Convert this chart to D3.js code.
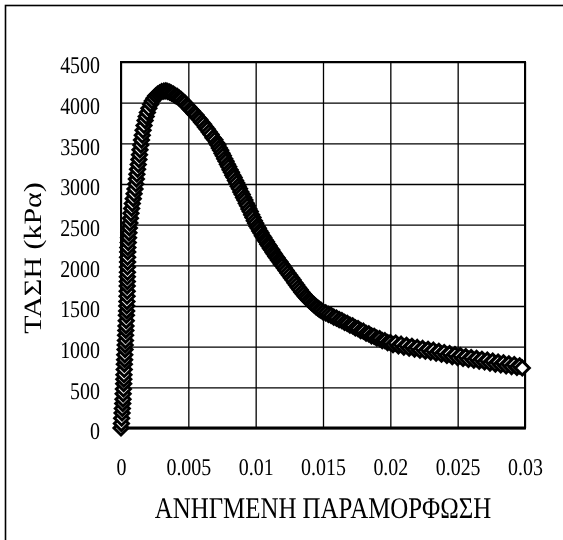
<!DOCTYPE html>
<html>
<head>
<meta charset="utf-8">
<script src="https://cdn.jsdelivr.net/npm/d3@7"></script>
<style>
  body { margin: 0; background: #fff; }
  svg { display: block; will-change: transform; }
  text { text-rendering: geometricPrecision; }
</style>
</head>
<body>
<svg id="chart" width="563" height="540"></svg>
<script>
// Rising branch of the stress–strain test (strain, stress in kPa)
const risingStrain = [
  0, 0.00003, 0.00005, 0.00008, 0.0001, 0.00013, 0.00015, 0.00016, 0.00018, 0.0002,
  0.00021, 0.00022, 0.00024, 0.00025, 0.00027, 0.00028, 0.0003, 0.00031, 0.00033, 0.00034,
  0.00036, 0.00037, 0.00039, 0.0004, 0.00042, 0.00043, 0.00044, 0.00045, 0.00046, 0.00046,
  0.00047, 0.00047, 0.00048, 0.00048, 0.00049, 0.00049, 0.0005, 0.00051,
  0.00054, 0.00056, 0.00059, 0.00062, 0.00066, 0.0007, 0.00074, 0.00079, 0.00084, 0.00091,
  0.00097, 0.00104, 0.0011, 0.00114, 0.00118, 0.00123, 0.00128, 0.00133, 0.00137, 0.00141,
  0.00147, 0.00152, 0.00158, 0.00164, 0.00171, 0.00179, 0.00187, 0.00196, 0.00207, 0.0022,
  0.00232, 0.00245, 0.00258, 0.00272, 0.00287, 0.00302, 0.00318, 0.00333
];
const risingStress = [
  0, 55, 120, 185, 240, 300, 355, 420, 480, 545,
  600, 655, 720, 785, 840, 900, 965, 1020, 1075, 1140,
  1200, 1255, 1320, 1385, 1440, 1500, 1555, 1620, 1680, 1745,
  1800, 1860, 1915, 1980, 2040, 2100, 2165, 2220,
  2280, 2340, 2400, 2460, 2520, 2580, 2640, 2700, 2760, 2820,
  2880, 2940, 3000, 3060, 3120, 3180, 3240, 3300, 3360, 3420,
  3480, 3540, 3600, 3660, 3720, 3780, 3830, 3880, 3930, 3980,
  4020, 4055, 4085, 4105, 4120, 4135, 4142, 4145
];

// Post-peak softening branch
const softeningStrain = [
  0.00347, 0.00361, 0.00375, 0.00389, 0.00403, 0.00417, 0.00431, 0.00445, 0.00459, 0.00473,
  0.00487, 0.00501, 0.00515, 0.00529, 0.00543, 0.00557, 0.00571, 0.00585, 0.00599, 0.00613,
  0.00627, 0.00641, 0.00655, 0.00669, 0.00683, 0.00697,
  0.0071, 0.0072, 0.0073, 0.0074, 0.0075, 0.0076, 0.0077, 0.0078, 0.0079, 0.008,
  0.0081, 0.0082, 0.0083, 0.0084, 0.0085, 0.0086, 0.0087, 0.0088, 0.0089, 0.009,
  0.0091, 0.0092, 0.0093, 0.0094, 0.0095, 0.0096, 0.0097, 0.0098, 0.0099, 0.01,
  0.0101, 0.0102, 0.0103, 0.0104, 0.0105, 0.0106, 0.0107, 0.0108, 0.0109, 0.011,
  0.0111, 0.0112, 0.0113, 0.0114, 0.0115, 0.0116, 0.0117, 0.0118, 0.0119, 0.012,
  0.01213, 0.01226, 0.01239, 0.01252, 0.01265, 0.01278, 0.01291, 0.01304, 0.01317, 0.0133,
  0.01343, 0.01356, 0.01369, 0.01382, 0.01395, 0.01408, 0.01421, 0.01434, 0.01447, 0.0146,
  0.01473, 0.01486, 0.015,
  0.0152, 0.0154, 0.0156, 0.0158, 0.016, 0.0162, 0.0164, 0.0166, 0.0168, 0.017,
  0.0172, 0.0174, 0.0176, 0.0178, 0.018, 0.0182, 0.0184, 0.0186, 0.0188, 0.019,
  0.0192, 0.0194, 0.0196, 0.0198, 0.02,
  0.0202, 0.0204, 0.0206, 0.0208, 0.021, 0.0212, 0.0214, 0.0216, 0.0218, 0.022,
  0.0222, 0.0224, 0.0226, 0.0228, 0.023, 0.0232, 0.0234, 0.0236, 0.0238, 0.024,
  0.0242, 0.0244, 0.0246, 0.0248, 0.025, 0.0252, 0.0254, 0.0256, 0.0258, 0.026,
  0.0262, 0.0264, 0.0266, 0.0268, 0.027, 0.0272, 0.0274, 0.0276, 0.0278, 0.028,
  0.0282, 0.0284, 0.0286, 0.0288, 0.029, 0.0292, 0.0294, 0.0296, 0.0298
];
const softeningStress = [
  4138, 4131, 4116, 4106, 4088, 4077, 4058, 4042, 4016, 3997,
  3968, 3947, 3918, 3897, 3868, 3847, 3815, 3792, 3760, 3735,
  3700, 3674, 3638, 3608, 3569, 3544,
  3505, 3478, 3443, 3414, 3378, 3348, 3310, 3280, 3242, 3212,
  3175, 3146, 3109, 3080, 3043, 3012, 2973, 2942, 2903, 2872,
  2833, 2802, 2763, 2732, 2693, 2661, 2621, 2589, 2549, 2517,
  2482, 2457, 2423, 2397, 2363, 2341, 2311, 2289, 2259, 2237,
  2208, 2187, 2158, 2137, 2108, 2089, 2062, 2043, 2016, 1997,
  1966, 1938, 1906, 1878, 1846, 1820, 1786, 1758, 1727, 1700,
  1670, 1645, 1617, 1595, 1572, 1553, 1531, 1515, 1492, 1478,
  1458, 1447, 1428,
  1415, 1398, 1384, 1363, 1352, 1332, 1320, 1299, 1287, 1265,
  1256, 1231, 1222, 1197, 1190, 1165, 1158, 1133, 1128, 1104,
  1099, 1075, 1073, 1049, 1050,
  1025, 1045, 1010, 1030, 995, 1016, 982, 1003, 970, 990,
  956, 978, 944, 967, 934, 956, 920, 942, 907, 928,
  893, 915, 878, 902, 866, 890, 855, 877, 843, 866,
  833, 856, 822, 845, 812, 834, 798, 822, 786, 810,
  777, 800, 765, 788, 756, 780, 746, 765, 738
];

const xTicks = [0, 0.005, 0.01, 0.015, 0.02, 0.025, 0.03];
const xTickLabels = ["0", "0.005", "0.01", "0.015", "0.02", "0.025", "0.03"];
const yTicks = [0, 500, 1000, 1500, 2000, 2500, 3000, 3500, 4000, 4500];
const yTickLabels = ["0", "500", "1000", "1500", "2000", "2500", "3000", "3500", "4000", "4500"];

const xTitle = "ΑΝΗΓΜΕΝΗ ΠΑΡΑΜΟΡΦΩΣΗ";
const yTitle = "ΤΑΣΗ (kPα)";

const points = risingStrain.map((s, i) => [s, risingStress[i]])
  .concat(softeningStrain.map((s, i) => [s, softeningStress[i]]));

const serif = "'Liberation Serif', 'Times New Roman', serif";
const squeeze = 0.83;  // narrow letterforms of the original typeface

const plot = { left: 121, right: 525, top: 62, bottom: 428 };
const svg = d3.select("#chart");

// outer chart frame (only its top and left edges fall inside the page)
svg.append("rect")
  .attr("x", 5.5).attr("y", 5.5)
  .attr("width", 700).attr("height", 700)
  .attr("fill", "#fff").attr("stroke", "#000").attr("stroke-width", 1.6);

const x = d3.scaleLinear().domain([0, 0.03]).range([plot.left, plot.right]);
const y = d3.scaleLinear().domain([0, 4500]).range([plot.bottom, plot.top]);

// x axis with full-height gridlines
const gx = svg.append("g")
  .attr("transform", `translate(0,${plot.bottom})`)
  .call(d3.axisBottom(x)
    .tickValues(xTicks)
    .tickFormat((d, i) => xTickLabels[i])
    .tickSizeInner(-(plot.bottom - plot.top))
    .tickSizeOuter(0)
    .tickPadding(30));

// y axis with full-width gridlines
const gy = svg.append("g")
  .attr("transform", `translate(${plot.left},0)`)
  .call(d3.axisLeft(y)
    .tickValues(yTicks)
    .tickFormat((d, i) => yTickLabels[i])
    .tickSizeInner(-(plot.right - plot.left))
    .tickSizeOuter(0)
    .tickPadding(21 / squeeze));

[gx, gy].forEach(g => {
  g.select(".domain").remove();
  g.selectAll(".tick line").attr("stroke", "#000").attr("stroke-width", 1.3);
  g.selectAll("text")
    .attr("fill", "#000")
    .attr("font-family", serif)
    .attr("font-size", 24)
    .attr("transform", `scale(${squeeze},1)`);
});
gy.selectAll("text").attr("dy", "0.45em");

// plot area border, heavier along the base
svg.append("rect")
  .attr("x", plot.left).attr("y", plot.top)
  .attr("width", plot.right - plot.left).attr("height", plot.bottom - plot.top)
  .attr("fill", "none").attr("stroke", "#000").attr("stroke-width", 2);
svg.append("line")
  .attr("x1", plot.left - 1).attr("x2", plot.right + 1)
  .attr("y1", plot.bottom).attr("y2", plot.bottom)
  .attr("stroke", "#000").attr("stroke-width", 3);

// diamond markers for every reading
svg.append("g")
  .selectAll("path")
  .data(points)
  .join("path")
  .attr("d", "M0,-7L7,0L0,7L-7,0Z")
  .attr("transform", d => `translate(${x(d[0])},${y(d[1])})`)
  .attr("fill", "#fff")
  .attr("stroke", "#000")
  .attr("stroke-width", 3);

// axis titles
svg.append("text")
  .attr("transform", `translate(${(plot.left + plot.right) / 2},518) scale(${squeeze},1)`)
  .attr("text-anchor", "middle")
  .attr("font-family", serif)
  .attr("font-size", 30)
  .attr("fill", "#000")
  .text(xTitle);

svg.append("text")
  .attr("transform", `translate(41,258) scale(${squeeze},1) rotate(-90)`)
  .attr("text-anchor", "middle")
  .attr("font-family", serif)
  .attr("font-size", 30)
  .attr("fill", "#000")
  .text(yTitle);
</script>
</body>
</html>
